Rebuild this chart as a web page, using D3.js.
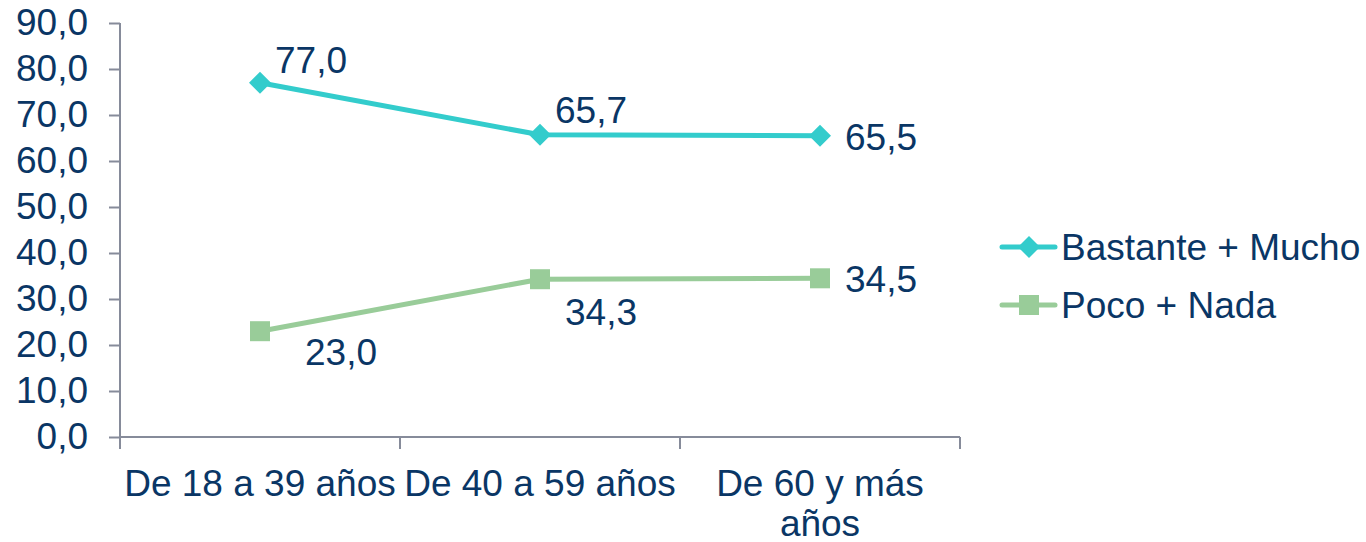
<!DOCTYPE html>
<html><head><meta charset="utf-8">
<script src="https://cdn.jsdelivr.net/npm/d3@7"></script>
<style>body{margin:0;background:#fff}svg{display:block}text{font-family:"Liberation Sans",Arial,sans-serif}</style>
</head><body><svg id="c" width="1366" height="542"></svg>
<script>
const categories = ["De 18 a 39 años", "De 40 a 59 años", "De 60 y más años"];
const seriesNames = ["Bastante + Mucho", "Poco + Nada"];
const bastante = [77.0, 65.7, 65.5];
const poco = [23.0, 34.3, 34.5];
const yTicks = [0, 10, 20, 30, 40, 50, 60, 70, 80, 90];

const colors = ["#33CCCC", "#99CC99"];
const textColor = "#0a3665";
const axisColor = "#868b9a";
const fs = 37;

const svg = d3.select("#c");
const x = d3.scaleBand().domain(categories).range([120, 960]).padding(0);
const y = d3.scaleLinear().domain([0, 90]).range([437, 23]);
const fmt = v => d3.format(".1f")(v).replace(".", ",");

// y axis
const ya = svg.append("g").attr("transform", "translate(120,0)")
  .call(d3.axisLeft(y).tickValues(yTicks).tickSize(11).tickPadding(21).tickFormat(fmt));
ya.selectAll("path,line").attr("stroke", axisColor).attr("stroke-width", 2);
ya.select("path").attr("d", `M0,${y(90)}V${y(0)}`);
ya.selectAll("text").attr("fill", textColor).style("font-size", fs + "px")
  .style("font-family", '"Liberation Sans",Arial,sans-serif');

// x axis
const xa = svg.append("g").attr("transform", `translate(0,${y(0)})`)
  .call(d3.axisBottom(x).tickSize(0).tickFormat(""));
xa.select("path").attr("stroke", axisColor).attr("stroke-width", 2).attr("d", `M120,0H960`);
const xticks = [...categories.map(c => x(c)), 960];
svg.append("g").selectAll("line").data(xticks).join("line")
  .attr("x1", d => d).attr("x2", d => d).attr("y1", y(0)).attr("y2", y(0) + 12)
  .attr("stroke", axisColor).attr("stroke-width", 2);

// x labels with wrapping
const xLabelLines = [["De 18 a 39 años"], ["De 40 a 59 años"], ["De 60 y más", "años"]];
categories.forEach((c, i) => {
  const t = svg.append("text").attr("x", x(c) + x.bandwidth() / 2).attr("y", 496)
    .attr("text-anchor", "middle").attr("fill", textColor).style("font-size", fs + "px");
  xLabelLines[i].forEach((ln, j) => t.append("tspan").attr("x", x(c) + x.bandwidth() / 2)
    .attr("dy", j === 0 ? 0 : 40).text(ln));
});

const cx = c => x(c) + x.bandwidth() / 2;
const line = d3.line().x((d, i) => cx(categories[i])).y(d => y(d));
const series = [bastante, poco];

series.forEach((s, k) => {
  svg.append("path").datum(s).attr("d", line).attr("fill", "none")
    .attr("stroke", colors[k]).attr("stroke-width", 5).attr("stroke-linejoin", "round");
});

function drawMarker(g, k, px, py) {
  if (k === 0) {
    g.append("path").attr("d", `M${px},${py - 11}L${px + 11},${py}L${px},${py + 11}L${px - 11},${py}Z`)
      .attr("fill", colors[0]);
  } else {
    g.append("rect").attr("x", px - 10).attr("y", py - 10).attr("width", 20).attr("height", 20)
      .attr("fill", colors[1]);
  }
}
const mg = svg.append("g");
series.forEach((s, k) => s.forEach((v, i) => drawMarker(mg, k, cx(categories[i]), y(v))));

// data label placement (dx, dy relative to marker)
const labelPlace = [
  [[15, -10], [15, -12], [25, 14]],
  [[45, 34], [25, 46], [25, 14]]
];
series.forEach((s, k) => s.forEach((v, i) => {
  svg.append("text").attr("x", cx(categories[i]) + labelPlace[k][i][0])
    .attr("y", y(v) + labelPlace[k][i][1]).attr("fill", textColor)
    .style("font-size", fs + "px").text(fmt(v));
}));

// legend
const lg = svg.append("g");
seriesNames.forEach((n, k) => {
  const ly = 247 + k * 58;
  lg.append("line").attr("x1", 1002).attr("x2", 1055).attr("y1", ly).attr("y2", ly)
    .attr("stroke", colors[k]).attr("stroke-width", 5).attr("stroke-linecap", "round");
  drawMarker(lg, k, 1029, ly);
  lg.append("text").attr("x", 1061).attr("y", ly + 13).attr("fill", textColor)
    .style("font-size", fs + "px").text(n);
});
</script></body></html>
